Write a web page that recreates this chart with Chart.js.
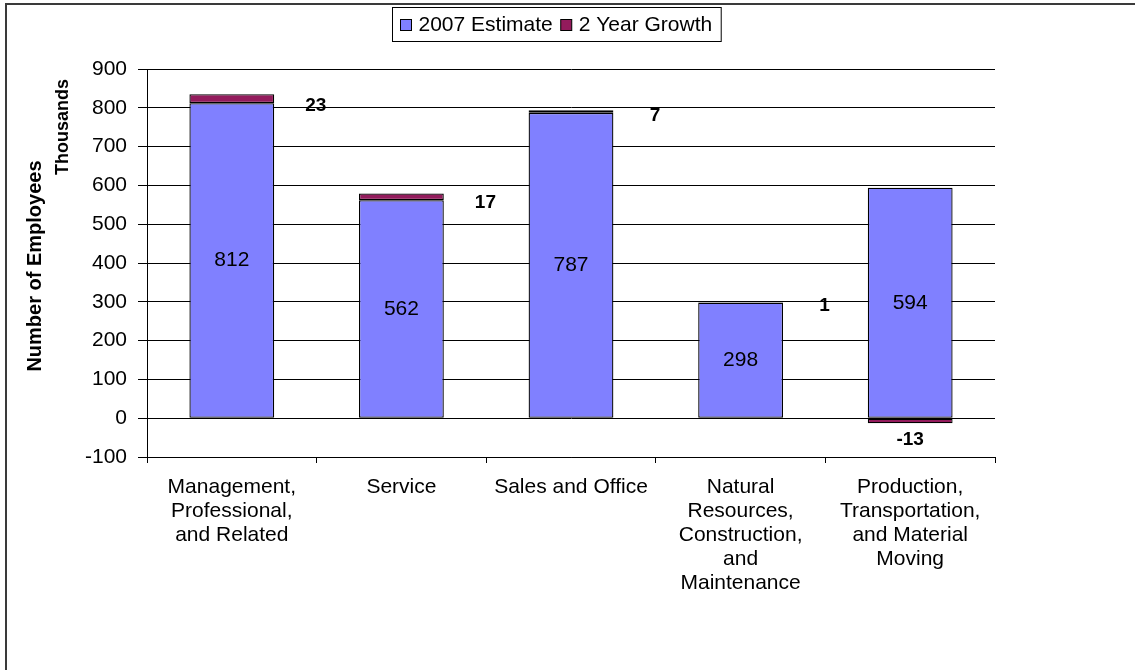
<!DOCTYPE html>
<html>
<head>
<meta charset="utf-8">
<script src="https://cdn.jsdelivr.net/npm/chart.js@4.4.1/dist/chart.umd.min.js"></script>
<style>
  body { margin: 0; background: #fff; }
  #wrap { width: 1135px; height: 670px; }
</style>
</head>
<body>
<div id="wrap"><canvas id="jobsChart" width="1135" height="670"></canvas></div>
<script>
// occupation groups and values (thousands)
const categories = [
    ['Management,', 'Professional,', 'and Related'],
    ['Service'],
    ['Sales and Office'],
    ['Natural', 'Resources,', 'Construction,', 'and', 'Maintenance'],
    ['Production,', 'Transportation,', 'and Material', 'Moving']
];
const estimate2007 = [812, 562, 787, 298, 594];
const growth2Year = [23, 17, 7, 1, -13];
const yMin = -100;
const yMax = 900;
const yStep = 100;

const FONT = '"Liberation Sans", Arial, sans-serif';

// white page + the frame edge that shows top/left
const framePlugin = {
    id: 'frame',
    beforeDraw(chart) {
        const ctx = chart.ctx;
        ctx.save();
        ctx.fillStyle = '#fff';
        ctx.fillRect(0, 0, chart.width, chart.height);
        ctx.strokeStyle = '#3a3a3a';
        ctx.lineWidth = 2;
        ctx.beginPath();
        ctx.moveTo(6, chart.height);
        ctx.lineTo(6, 4);
        ctx.lineTo(chart.width, 4);
        ctx.stroke();
        ctx.restore();
    }
};

// Excel-ish boxed legend
const boxLegend = {
    id: 'boxLegend',
    afterDraw(chart) {
        const ctx = chart.ctx;
        const sets = chart.data.datasets;
        ctx.save();
        ctx.font = '21px ' + FONT;
        const sq = 11, gapSq = 7, gapItem = 8, padL = 8, padR = 9;
        let w = padL + padR;
        sets.forEach((ds, i) => {
            w += sq + gapSq + ctx.measureText(ds.label).width;
            if (i < sets.length - 1) w += gapItem;
        });
        const top = 7, h = 34;
        let x = Math.round(556 - w / 2) + 0.5;
        ctx.strokeStyle = '#000';
        ctx.lineWidth = 1;
        ctx.strokeRect(x, top + 0.5, w, h);
        let cx = x + padL;
        const cy = top + h / 2 + 1;
        ctx.textBaseline = 'middle';
        ctx.fillStyle = '#000';
        sets.forEach(ds => {
            ctx.fillStyle = ds.backgroundColor;
            ctx.fillRect(cx, cy - sq / 2, sq, sq);
            ctx.strokeRect(cx, cy - sq / 2, sq, sq);
            cx += sq + gapSq;
            ctx.fillStyle = '#000';
            ctx.fillText(ds.label, cx, cy);
            cx += ctx.measureText(ds.label).width + gapItem;
        });
        ctx.restore();
    }
};

// value labels: estimate inside the bar, growth beside / below it
const valueLabels = {
    id: 'valueLabels',
    afterDatasetsDraw(chart) {
        const ctx = chart.ctx;
        const yScale = chart.scales.y;
        ctx.save();
        ctx.fillStyle = '#000';
        ctx.textAlign = 'center';
        ctx.textBaseline = 'middle';

        const est = chart.getDatasetMeta(0);
        ctx.font = '21px ' + FONT;
        est.data.forEach((bar, i) => {
            ctx.fillText(estimate2007[i], bar.x, (bar.y + bar.base) / 2);
        });

        const gr = chart.getDatasetMeta(1);
        ctx.font = 'bold 19px ' + FONT;
        gr.data.forEach((bar, i) => {
            const v = growth2Year[i];
            if (v < 0) {
                ctx.fillText(v, bar.x, bar.y + 17);
            } else {
                ctx.fillText(v, bar.x + 84, yScale.getPixelForValue(estimate2007[i]) + 3);
            }
        });
        ctx.restore();
    }
};

new Chart(document.getElementById('jobsChart'), {
    type: 'bar',
    data: {
        labels: categories,
        datasets: [
            {
                label: '2007 Estimate',
                data: estimate2007,
                backgroundColor: '#8080FF',
                borderColor: '#000',
                borderWidth: 1.3,
                borderSkipped: false
            },
            {
                label: '2 Year Growth',
                data: growth2Year,
                backgroundColor: '#931B5C',
                borderColor: '#000',
                borderWidth: 1.3,
                borderSkipped: false
            }
        ]
    },
    options: {
        responsive: false,
        animation: false,
        devicePixelRatio: 1,
        layout: { padding: { left: 0, top: 69, right: 140, bottom: 0 } },
        datasets: { bar: { barPercentage: 0.5, categoryPercentage: 1 } },
        plugins: {
            legend: { display: false },
            tooltip: { enabled: false }
        },
        scales: {
            x: {
                stacked: true,
                grid: { offset: true, drawOnChartArea: false, color: '#000', tickLength: 6 },
                border: { color: '#000', width: 1 },
                ticks: {
                    color: '#000',
                    font: { family: FONT, size: 21, lineHeight: 1.143 },
                    padding: 12,
                    maxRotation: 0,
                    autoSkip: false
                },
                afterFit(scale) { scale.height = 213; }
            },
            y: {
                stacked: true,
                min: yMin,
                max: yMax,
                grid: { color: '#000', tickLength: 9 },
                border: { color: '#000', width: 1 },
                ticks: {
                    stepSize: yStep,
                    color: '#000',
                    font: { family: FONT, size: 21 },
                    padding: 11
                },
                afterFit(scale) { scale.width = 147; }
            }
        }
    },
    plugins: [framePlugin, valueLabels, boxLegend, {
        id: 'axisTitle',
        afterDraw(chart) {
            const ctx = chart.ctx;
            const titles = [
                { text: 'Number of Employees', x: 35, y: 266, size: 20 },
                { text: 'Thousands', x: 63, y: 127, size: 18 }
            ];
            titles.forEach(t => {
                ctx.save();
                ctx.fillStyle = '#000';
                ctx.font = 'bold ' + t.size + 'px ' + FONT;
                ctx.textAlign = 'center';
                ctx.textBaseline = 'middle';
                ctx.translate(t.x, t.y);
                ctx.rotate(-Math.PI / 2);
                ctx.fillText(t.text, 0, 0);
                ctx.restore();
            });
        }
    }]
});
</script>
</body>
</html>
